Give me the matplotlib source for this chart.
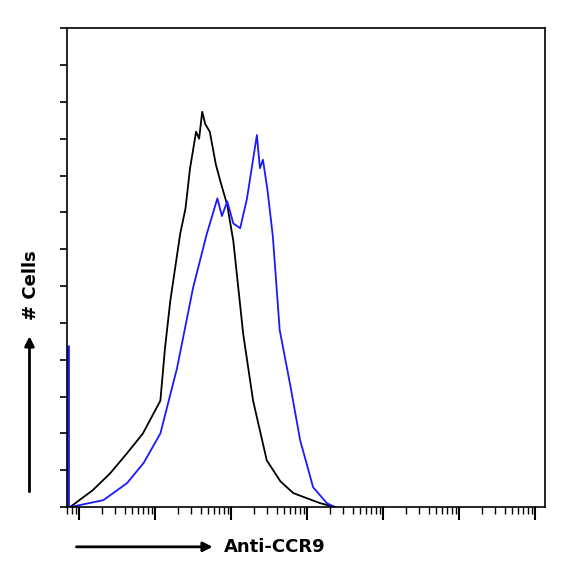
import numpy as np
import matplotlib
matplotlib.use("Agg")
import matplotlib.pyplot as plt
from matplotlib.ticker import LogLocator, NullFormatter, MultipleLocator

# log10 intensity / cell counts
iso_log = [-0.12, 0.18, 0.41, 0.63, 0.84, 1.07, 1.13, 1.20, 1.33, 1.40, 1.46, 1.54, 1.58, 1.62,
           1.66, 1.72, 1.80, 1.86, 1.95, 2.03, 2.16, 2.29, 2.47, 2.65, 2.82, 3.17, 3.37]
iso_cnt = [0.0, 0.46, 0.92, 1.46, 2.0, 2.89, 4.3, 5.59, 7.41, 8.1, 9.19, 10.19, 10.0, 10.73,
           10.4, 10.19, 9.3, 8.84, 8.2, 7.22, 4.70, 2.89, 1.27, 0.7, 0.38, 0.11, 0.0]

ccr9_log = [-0.12, 0.32, 0.63, 0.85, 1.07, 1.29, 1.50, 1.68, 1.82, 1.88, 1.95, 2.03, 2.12, 2.21,
            2.34, 2.38, 2.42, 2.48, 2.55, 2.64, 2.78, 2.91, 3.08, 3.26, 3.37]
ccr9_cnt = [0.0, 0.19, 0.65, 1.2, 2.0, 3.78, 5.95, 7.41, 8.38, 7.9, 8.30, 7.7, 7.57, 8.38,
            10.1, 9.2, 9.43, 8.6, 7.35, 4.81, 3.30, 1.81, 0.54, 0.11, 0.0]
spike_log = -0.15
spike_cnt = 4.4

fig = plt.figure(figsize=(5.67, 5.75), dpi=100)
ax = fig.add_axes([0.118, 0.118, 0.843, 0.833])

ax.plot(10 ** np.array(iso_log), iso_cnt, color="black", lw=1.3)
ax.plot(10 ** np.array(ccr9_log), ccr9_cnt, color="#1a1aff", lw=1.3)
ax.vlines(10 ** spike_log, 0, spike_cnt, color="#1a1aff", lw=2)

ax.set_xscale("log")
ax.set_xlim(10 ** -0.16, 10 ** 6.13)
ax.set_ylim(0, 13)
ax.xaxis.set_major_locator(LogLocator(base=10, numticks=10))
ax.xaxis.set_minor_locator(LogLocator(base=10, subs=np.arange(2, 10), numticks=100))
ax.xaxis.set_major_formatter(NullFormatter())
ax.xaxis.set_minor_formatter(NullFormatter())
ax.yaxis.set_major_locator(MultipleLocator(1))
ax.set_yticklabels([])
ax.tick_params(axis="x", which="major", length=9, width=1.5, direction="out")
ax.tick_params(axis="x", which="minor", length=5, width=1, direction="out")
ax.tick_params(axis="y", length=5, width=1.2, direction="out")
for s in ax.spines.values():
    s.set_linewidth(1.2)

fig.text(0.055, 0.505, "# Cells", rotation=90, fontsize=13, fontweight="bold",
         ha="center", va="center")
fig.patches.append(matplotlib.patches.FancyArrowPatch(
    (0.052, 0.14), (0.052, 0.42), transform=fig.transFigure, arrowstyle="-|>",
    mutation_scale=14, lw=2, color="black"))
fig.text(0.395, 0.049, "Anti-CCR9", fontsize=13, fontweight="bold", ha="left", va="center")
fig.patches.append(matplotlib.patches.FancyArrowPatch(
    (0.13, 0.049), (0.38, 0.049), transform=fig.transFigure, arrowstyle="-|>",
    mutation_scale=14, lw=2, color="black"))

fig.savefig("out.png", dpi=100)
